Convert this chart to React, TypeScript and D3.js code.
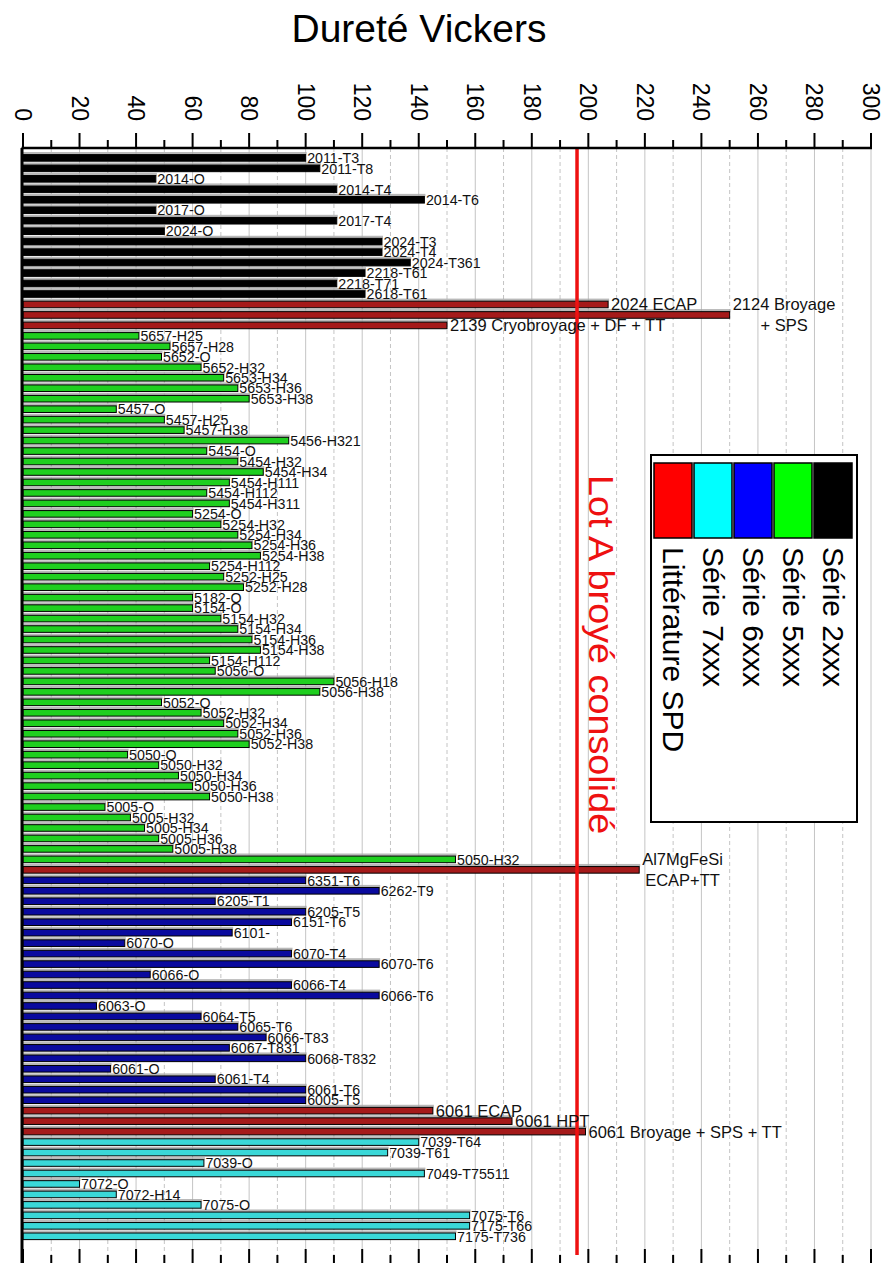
import React, { useEffect, useRef } from 'react';
import * as d3 from 'd3';

const chartTitle = 'Dureté Vickers';
const seriesNames = ['Série 2xxx', 'Série 5xxx', 'Série 6xxx', 'Série 7xxx', 'Littérature SPD'];
const legendColors = ['#000000', '#00ff00', '#0000ff', '#00ffff', '#ff0000'];
const barColors = ['#000000', '#1fcf1f', '#0a0a9e', '#3ad8d8', '#a51a1a'];

const labels2xxx = ['2011-T3', '2011-T8', '2014-O', '2014-T4', '2014-T6', '2017-O', '2017-T4', '2024-O', '2024-T3', '2024-T4', '2024-T361', '2218-T61', '2218-T71', '2618-T61'];
const values2xxx = [100, 105, 47, 111, 142, 47, 111, 50, 127, 127, 137, 121, 111, 121];

const labelsLitA = ['2024 ECAP', '2124 Broyage\n+ SPS', '2139 Cryobroyage + DF + TT'];
const valuesLitA = [207, 250, 150];

const labels5xxx = ['5657-H25', '5657-H28', '5652-O', '5652-H32', '5653-H34', '5653-H36', '5653-H38', '5457-O', '5457-H25', '5457-H38', '5456-H321', '5454-O', '5454-H32', '5454-H34', '5454-H111', '5454-H112', '5454-H311', '5254-O', '5254-H32', '5254-H34', '5254-H36', '5254-H38', '5254-H112', '5252-H25', '5252-H28', '5182-O', '5154-O', '5154-H32', '5154-H34', '5154-H36', '5154-H38', '5154-H112', '5056-O', '5056-H18', '5056-H38', '5052-O', '5052-H32', '5052-H34', '5052-H36', '5052-H38', '5050-O', '5050-H32', '5050-H34', '5050-H36', '5050-H38', '5005-O', '5005-H32', '5005-H34', '5005-H36', '5005-H38', '5050-H32'];
const values5xxx = [41, 52, 49, 63, 71, 76, 80, 33, 50, 57, 94, 65, 76, 85, 73, 65, 73, 60, 70, 76, 81, 84, 66, 71, 78, 60, 60, 70, 76, 81, 84, 66, 68, 110, 105, 49, 63, 71, 76, 80, 37, 48, 55, 60, 66, 29, 38, 43, 48, 53, 153];

const labelsLitB = ['Al7MgFeSi\nECAP+TT'];
const valuesLitB = [218];

const labels6xxx = ['6351-T6', '6262-T9', '6205-T1', '6205-T5', '6151-T6', '6101-', '6070-O', '6070-T4', '6070-T6', '6066-O', '6066-T4', '6066-T6', '6063-O', '6064-T5', '6065-T6', '6066-T83', '6067-T831', '6068-T832', '6061-O', '6061-T4', '6061-T6', '6005-T5'];
const values6xxx = [100, 126, 68, 100, 95, 74, 36, 95, 126, 45, 95, 126, 26, 63, 76, 86, 73, 100, 31, 68, 100, 100];

const labelsLitC = ['6061 ECAP', '6061 HPT', '6061 Broyage + SPS + TT'];
const valuesLitC = [145, 173, 199];

const labels7xxx = ['7039-T64', '7039-T61', '7039-O', '7049-T75511', '7072-O', '7072-H14', '7075-O', '7075-T6', '7175-T66', '7175-T736'];
const values7xxx = [140, 129, 64, 142, 20, 33, 63, 158, 158, 153];

const tickValues = [0, 20, 40, 60, 80, 100, 120, 140, 160, 180, 200, 220, 240, 260, 280, 300];
const minorTickValues = [10, 30, 50, 70, 90, 110, 130, 150, 170, 190, 210, 230, 250, 270, 290];
const referenceValue = 196;
const referenceLabel = 'Lot A broyé consolidé';

const segments = [
  { s: 0, labels: labels2xxx, values: values2xxx },
  { s: 4, labels: labelsLitA, values: valuesLitA },
  { s: 1, labels: labels5xxx, values: values5xxx },
  { s: 4, labels: labelsLitB, values: valuesLitB },
  { s: 2, labels: labels6xxx, values: values6xxx },
  { s: 4, labels: labelsLitC, values: valuesLitC },
  { s: 3, labels: labels7xxx, values: values7xxx },
];

export default function App() {
  const ref = useRef<SVGSVGElement | null>(null);

  useEffect(() => {
    const svg = d3.select(ref.current);
    svg.selectAll('*').remove();
    const W = 888, H = 1263;
    const font = 'Liberation Sans, Arial, sans-serif';

    const rows: { label: string; value: number; s: number }[] = [];
    segments.forEach(seg => seg.labels.forEach((l, i) => rows.push({ label: l, value: seg.values[i], s: seg.s })));

    const x = d3.scaleLinear().domain([0, 300]).range([23, 871]);
    const y = d3.scaleBand<number>().domain(rows.map((_, i) => i)).range([151.7, 151.7 + rows.length * 10.47]).padding(0);
    const axisY = 148;

    svg.append('rect').attr('width', W).attr('height', H).attr('fill', '#fff');

    // title
    svg.append('text').attr('x', 419).attr('y', 42).attr('text-anchor', 'middle')
      .attr('font-family', font).attr('font-size', 39).text(chartTitle);

    // grid
    const g = svg.append('g');
    [...tickValues.slice(1), ...minorTickValues].forEach(v => {
      g.append('line').attr('x1', x(v)).attr('x2', x(v)).attr('y1', axisY).attr('y2', H)
        .attr('stroke', '#c4c4c4').attr('stroke-width', 1)
        .attr('stroke-dasharray', v % 20 === 0 ? null : '4,3');
    });

    // bars
    const bars = svg.append('g');
    rows.forEach((r, i) => {
      const y0 = y(i)!;
      bars.append('rect').attr('x', x(0)).attr('y', y0 + 0.3).attr('width', x(r.value) - x(0) + 1).attr('height', 2.6)
        .attr('fill', '#a8a8a8').attr('opacity', 0.8);
      bars.append('rect').attr('x', x(0)).attr('y', y0 + 2.9).attr('width', x(r.value) - x(0)).attr('height', 6.6)
        .attr('fill', barColors[r.s]).attr('stroke', '#000').attr('stroke-width', 1);
    });

    // reference line
    svg.append('line').attr('x1', x(referenceValue)).attr('x2', x(referenceValue)).attr('y1', axisY).attr('y2', 1255)
      .attr('stroke', '#ee1111').attr('stroke-width', 3.5);

    // labels
    const lab = svg.append('g').attr('font-family', font).attr('fill', '#111');
    rows.forEach((r, i) => {
      const cy = y(i)! + 6.2;
      const xe = x(r.value);
      if (r.s !== 4) {
        lab.append('text').attr('transform', `translate(${xe + 1.5},${cy}) scale(0.92,1)`)
          .attr('dominant-baseline', 'central').attr('font-size', 15.5).text(r.label);
      } else {
        const lines = r.label.split('\n');
        if (lines.length === 1) {
          lab.append('text').attr('x', xe + 3).attr('y', cy).attr('dominant-baseline', 'central')
            .attr('font-size', 16.5).text(r.label);
        } else {
          const ts = lines.map((l, k) => lab.append('text').attr('y', cy + (k - (lines.length - 1) / 2) * 21)
            .attr('dominant-baseline', 'central').attr('font-size', 16.5).attr('text-anchor', 'middle').text(l));
          const wmax = d3.max(ts, t => (t.node() as SVGTextElement).getComputedTextLength()) || 0;
          ts.forEach(t => t.attr('x', xe + 3 + wmax / 2));
        }
      }
    });

    // axes
    const ax = svg.append('g').attr('stroke', '#000');
    ax.append('line').attr('x1', x(0) - 1.5).attr('x2', x(300) + 1).attr('y1', axisY).attr('y2', axisY).attr('stroke-width', 2.5);
    ax.append('line').attr('x1', x(0) - 1).attr('x2', x(0) - 1).attr('y1', axisY).attr('y2', H).attr('stroke-width', 3);
    tickValues.forEach(v => {
      ax.append('line').attr('x1', x(v)).attr('x2', x(v)).attr('y1', axisY - 15).attr('y2', axisY).attr('stroke-width', 2);
      ax.append('line').attr('x1', x(v)).attr('x2', x(v)).attr('y1', H - 14).attr('y2', H).attr('stroke-width', 2);
    });
    minorTickValues.forEach(v => {
      ax.append('line').attr('x1', x(v)).attr('x2', x(v)).attr('y1', axisY - 8).attr('y2', axisY).attr('stroke-width', 2);
      ax.append('line').attr('x1', x(v)).attr('x2', x(v)).attr('y1', H - 8).attr('y2', H).attr('stroke-width', 2);
    });
    const tl = svg.append('g').attr('font-family', font).attr('font-size', 23);
    tickValues.forEach(v => {
      tl.append('text').attr('transform', `translate(${x(v)},121) rotate(90)`).attr('text-anchor', 'end')
        .attr('dominant-baseline', 'central').text(String(v));
    });

    // reference label
    svg.append('text').attr('transform', `translate(601,475) rotate(90) scale(1.08,1)`)
      .attr('dominant-baseline', 'central').attr('font-family', font).attr('font-size', 35)
      .attr('fill', '#ee1111').text(referenceLabel);

    // legend
    const lg = svg.append('g');
    lg.append('rect').attr('x', 651).attr('y', 455).attr('width', 206).attr('height', 367)
      .attr('fill', '#fff').attr('stroke', '#000').attr('stroke-width', 2);
    seriesNames.forEach((name, k) => {
      const cx = 833 - k * 40;
      lg.append('rect').attr('x', cx - 19).attr('y', 463).attr('width', 38).attr('height', 75)
        .attr('fill', legendColors[k]).attr('stroke', '#000').attr('stroke-width', 1.5);
      lg.append('text').attr('transform', `translate(${cx},547) rotate(90)`).attr('dominant-baseline', 'central')
        .attr('font-family', font).attr('font-size', 30).text(name);
    });
  }, []);

  return <svg ref={ref} width={888} height={1263} style={{ position: 'absolute', left: 0, top: 0 }} />;
}
